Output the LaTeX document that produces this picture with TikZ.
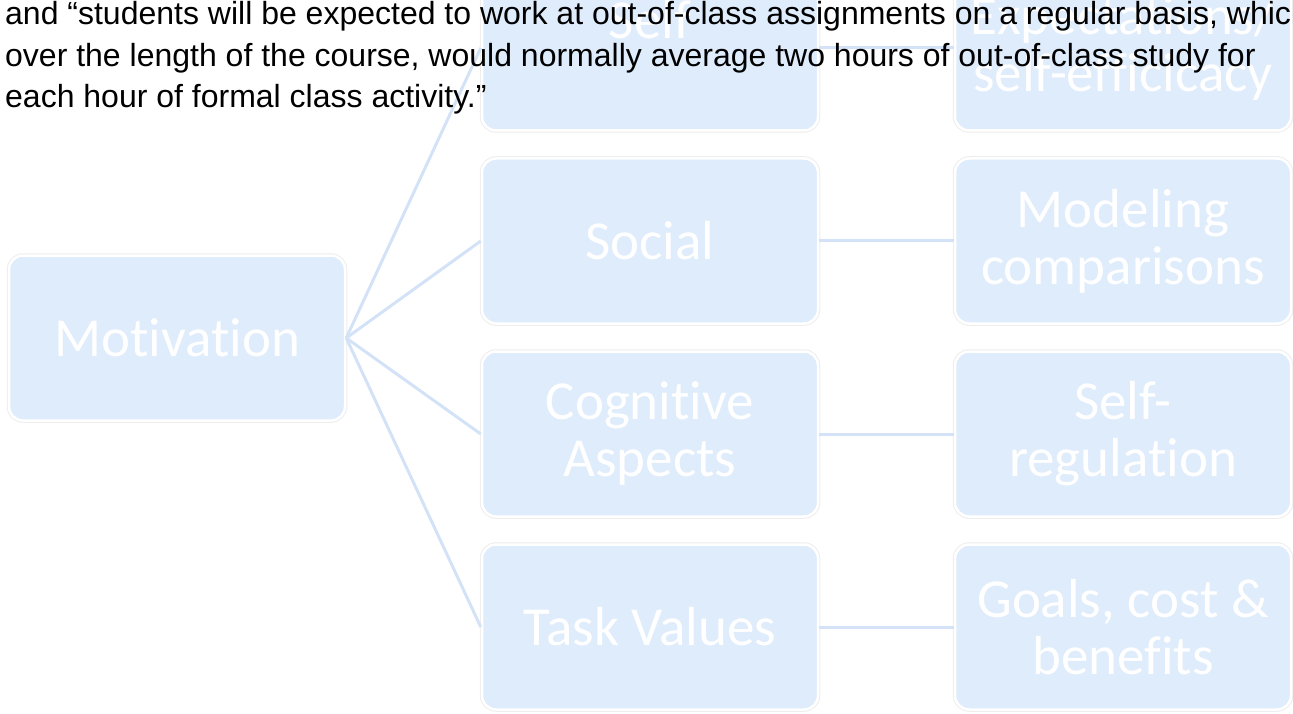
\documentclass[tikz,border=0pt]{standalone}
\usepackage{fontspec}
\setmainfont{Liberation Sans}
\newfontfamily\boxfont[Ligatures=NoCommon]{Carlito}
\usepackage{tikz}

\definecolor{boxblue}{RGB}{223,236,252}
\definecolor{linkblue}{RGB}{212,226,247}

\begin{document}
\begin{tikzpicture}[x=1pt,y=-1pt]
    \useasboundingbox (0,0) rectangle (1293,714);
    \begin{scope}[every node/.style={rectangle,rounded corners=14pt,fill=boxblue,draw=white,line width=2.5pt,
            preaction={draw=black!7,line width=4.5pt},minimum width=336pt,minimum height=165pt,
            text=white,align=center,font=\boxfont\fontsize{55}{57}\selectfont}]
        \node (mot) at (177,338) {Motivation};
        \node (self) at (650,48) {Self\\~};
        \node (social) at (650,241) {Social};
        \node (cog) at (650,434) {Cognitive\\Aspects};
        \node (task) at (650,627) {Task Values};
        \node (expect) at (1123,48) {Expectations/\\self-efficicacy};
        \node (model) at (1123,241) {Modeling\\comparisons};
        \node (selfreg) at (1123,434) {Self-\\regulation};
        \node (goals) at (1123,627) {Goals, cost \&\\benefits};
    \end{scope}
    \begin{scope}[every edge/.style={draw=linkblue,line width=3pt}]
        \draw (mot.east) edge (self.west);
        \draw (mot.east) edge (social.west);
        \draw (mot.east) edge (cog.west);
        \draw (mot.east) edge (task.west);
        \draw (self) edge (expect);
        \draw (social) edge (model);
        \draw (cog) edge (selfreg);
        \draw (task) edge (goals);
    \end{scope}
    \begin{scope}[every node/.style={anchor=base west,inner sep=0pt,font=\fontsize{32}{42}\selectfont}]
        \node (quote1) at (5,25) {and “students will be expected to work at out-of-class assignments on a regular basis, which};
        \node (quote2) at (5,67) {over the length of the course, would normally average two hours of out-of-class study for};
        \node (quote3) at (5,108) {each hour of formal class activity.”};
    \end{scope}
\end{tikzpicture}
\end{document}
